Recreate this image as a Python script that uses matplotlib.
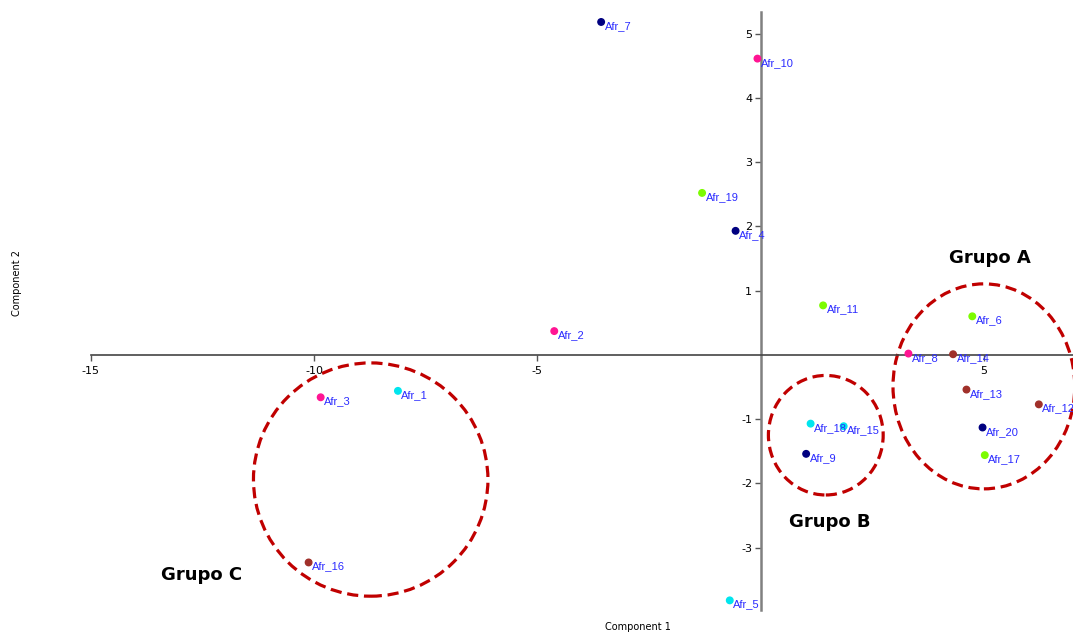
import matplotlib.pyplot as plt
from matplotlib.patches import Ellipse

plt.rcParams['axes.unicode_minus'] = False

# PCA scores
names = ['Afr_1', 'Afr_2', 'Afr_3', 'Afr_4', 'Afr_5', 'Afr_6', 'Afr_7', 'Afr_8',
         'Afr_9', 'Afr_10', 'Afr_11', 'Afr_12', 'Afr_13', 'Afr_14', 'Afr_15',
         'Afr_16', 'Afr_17', 'Afr_18', 'Afr_19', 'Afr_20']
comp1 = [-8.12, -4.62, -9.85, -0.56, -0.69, 4.74, -3.57, 3.31,
         1.02, -0.07, 1.40, 6.23, 4.61, 4.31, 1.86,
         -10.12, 5.02, 1.12, -1.31, 4.97]
comp2 = [-0.56, 0.37, -0.66, 1.93, -3.82, 0.60, 5.18, 0.02,
         -1.54, 4.61, 0.77, -0.77, -0.54, 0.01, -1.11,
         -3.23, -1.56, -1.07, 2.52, -1.13]
colors = ['#00e5ee', '#ff1493', '#ff1493', '#000080', '#00e5ee', '#7cfc00', '#000080', '#ff1493',
          '#000080', '#ff1493', '#7cfc00', '#a0302a', '#a0302a', '#a0302a', '#00e5ee',
          '#a0302a', '#7cfc00', '#00e5ee', '#7cfc00', '#000080']

# group ellipses: name, center x, center y, width, height, label x, label y
groups = ['Grupo A', 'Grupo B', 'Grupo C']
group_cx = [5.0, 1.46, -8.73]
group_cy = [-0.49, -1.25, -1.94]
group_w = [4.07, 2.57, 5.25]
group_h = [3.19, 1.86, 3.63]
group_lx = [5.14, 1.55, -12.51]
group_ly = [1.50, -2.60, -3.43]

fig = plt.figure(figsize=(10.73, 6.32), dpi=100)
ax = fig.add_axes([0.0845, 0.0348, 0.9157, 0.9467])
ax.set_xlim(-15.0, 7.0)
ax.set_ylim(-3.97, 5.34)

ax.spines['top'].set_visible(False)
ax.spines['right'].set_visible(False)
ax.spines['left'].set_position(('data', 0))
ax.spines['bottom'].set_position(('data', 0))
ax.spines['left'].set_color('#808080')
ax.spines['left'].set_linewidth(1.8)
ax.spines['bottom'].set_color('#444444')
ax.spines['bottom'].set_linewidth(1.2)

ax.set_xticks([-15, -10, -5, 5])
ax.set_yticks([-3, -2, -1, 1, 2, 3, 4, 5])
ax.tick_params(axis='both', labelsize=8, length=4, width=1, color='#555555', pad=2)
ax.tick_params(axis='x', pad=4)

ax.scatter(comp1, comp2, s=22, c=colors, zorder=3)
for n, x, y in zip(names, comp1, comp2):
    ax.annotate(n, (x, y), xytext=(2.5, -3), textcoords='offset points',
                ha='left', va='center', fontsize=8, color='#2b2bff',
                family='Liberation Sans', zorder=4)

for g, cx, cy, w, h, lx, ly in zip(groups, group_cx, group_cy, group_w, group_h,
                                   group_lx, group_ly):
    ax.add_patch(Ellipse((cx, cy), w, h, fill=False, ec='#c00000', lw=2.3,
                         ls=(0, (3.5, 1.8)), clip_on=False, zorder=2))
    ax.text(lx, ly, g, ha='center', va='center', fontsize=13, fontweight='bold',
            color='black')

fig.text(638 / 1073, 1 - 627 / 632, 'Component 1', ha='center', va='center', fontsize=7)
fig.text(17 / 1073, 1 - 283 / 632, 'Component 2', ha='center', va='center',
         fontsize=7, rotation=90)

fig.savefig('out.png', dpi=100)
